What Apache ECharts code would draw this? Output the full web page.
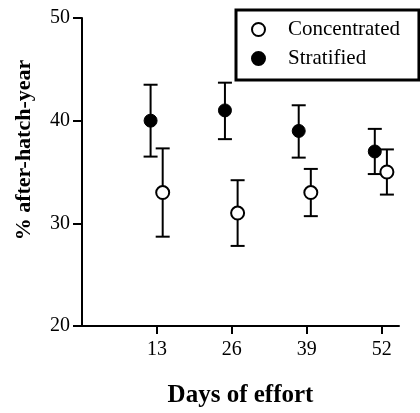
<!DOCTYPE html>
<html>
<head>
<meta charset="utf-8">
<script src="https://cdn.jsdelivr.net/npm/echarts@6/dist/echarts.min.js"></script>
<style>html,body{margin:0;padding:0;background:#fff;}#c{width:420px;height:413px;}</style>
</head>
<body>
<div id="c"></div>
<script>
// Tick labels
var xTicks = [13, 26, 39, 52];
var yTicks = [20, 30, 40, 50];
// Plotted x positions (slightly offset around each day)
var stratX = [11.9, 24.8, 37.6, 50.8];
var concX = [14.0, 27.0, 39.7, 52.9];
// Stratified
var stratMean = [40, 41, 39, 37];
var stratLow = [36.5, 38.2, 36.4, 34.8];
var stratHigh = [43.5, 43.7, 41.5, 39.2];
// Concentrated
var concMean = [33, 31, 33, 35];
var concLow = [28.7, 27.8, 30.7, 32.8];
var concHigh = [37.3, 34.2, 35.3, 37.2];

var FONT = '"Liberation Serif", "Times New Roman", serif';

function pts(xs, ys) { return xs.map(function (x, i) { return [x, ys[i]]; }); }
function bars(xs, lo, hi) { return xs.map(function (x, i) { return [x, lo[i], hi[i]]; }); }

function errRender(params, api) {
  var x = api.value(0);
  var lo = api.coord([x, api.value(1)]);
  var hi = api.coord([x, api.value(2)]);
  var hw = 7;
  var st = { stroke: '#000', lineWidth: 2 };
  return {
    type: 'group',
    children: [
      { type: 'line', shape: { x1: lo[0], y1: lo[1], x2: hi[0], y2: hi[1] }, style: st },
      { type: 'line', shape: { x1: lo[0] - hw, y1: lo[1], x2: lo[0] + hw, y2: lo[1] }, style: st },
      { type: 'line', shape: { x1: hi[0] - hw, y1: hi[1], x2: hi[0] + hw, y2: hi[1] }, style: st }
    ]
  };
}

var chart = echarts.init(document.getElementById('c'), null, { renderer: 'canvas' });
chart.setOption({
  animation: false,
  backgroundColor: '#fff',
  grid: { left: 82, top: 18, right: 21, bottom: 79, containLabel: false },
  xAxis: {
    type: 'value', min: 0, max: 55,
    name: 'Days of effort', nameLocation: 'middle', nameGap: 57,
    nameTextStyle: { fontFamily: FONT, fontWeight: 'bold', fontSize: 25, color: '#000' },
    axisLine: { show: true, lineStyle: { color: '#000', width: 2 } },
    axisTick: { show: true, length: 8, lineStyle: { color: '#000', width: 2 }, customValues: xTicks },
    axisLabel: { fontFamily: FONT, fontSize: 20, color: '#000', margin: 14, customValues: xTicks },
    splitLine: { show: false }
  },
  yAxis: {
    type: 'value', min: 20, max: 50, interval: 10,
    name: '% after-hatch-year', nameLocation: 'middle', nameGap: 47, nameRotate: 90,
    nameTextStyle: { fontFamily: FONT, fontWeight: 'bold', fontSize: 22, color: '#000', padding: [0, 0, 0, 44] },
    axisLine: { show: true, lineStyle: { color: '#000', width: 2 } },
    axisTick: { show: true, length: 9, lineStyle: { color: '#000', width: 2 }, customValues: yTicks },
    axisLabel: { fontFamily: FONT, fontSize: 20, color: '#000', margin: 12, customValues: yTicks },
    splitLine: { show: false }
  },
  legend: {
    orient: 'vertical', left: 236, top: 10,
    padding: [9, 19, 11, 15],
    borderColor: '#000', borderWidth: 3,
    itemWidth: 13, itemHeight: 13, itemGap: 8,
    textStyle: { fontFamily: FONT, fontSize: 21, color: '#000', padding: [0, 0, 0, 18] },
    data: ['Concentrated', 'Stratified']
  },
  series: [
    { name: 'StratErr', type: 'custom', renderItem: errRender, data: bars(stratX, stratLow, stratHigh), z: 1 },
    { name: 'ConcErr', type: 'custom', renderItem: errRender, data: bars(concX, concLow, concHigh), z: 1 },
    { name: 'Stratified', type: 'scatter', symbol: 'circle', symbolSize: 13, z: 3,
      itemStyle: { color: '#000', borderColor: '#000', borderWidth: 1, opacity: 1 },
      data: pts(stratX, stratMean) },
    { name: 'Concentrated', type: 'scatter', symbol: 'circle', symbolSize: 13, z: 3,
      itemStyle: { color: '#fff', borderColor: '#000', borderWidth: 2, opacity: 1 },
      data: pts(concX, concMean) }
  ]
});
</script>
</body>
</html>
